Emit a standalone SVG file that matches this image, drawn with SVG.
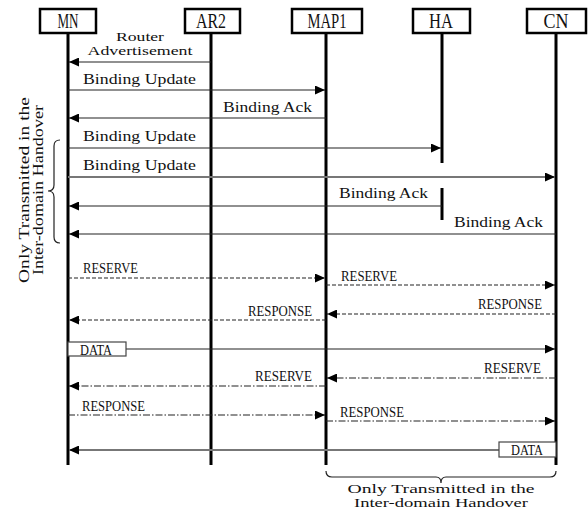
<svg xmlns="http://www.w3.org/2000/svg" width="588" height="515" viewBox="0 0 588 515">
<style>
.t{font-family:"Liberation Serif",serif;font-size:15px;fill:#111}
.s{font-size:12.5px}
.h{font-family:"Liberation Serif",serif;font-size:21px;fill:#111}
.box{fill:#fff;stroke:#000;stroke-width:2.5}
.life{stroke:#000;stroke-width:3;fill:none}
.m{stroke:#222;stroke-width:1.2;fill:none}
.g{stroke:#777;stroke-width:2;fill:none}
.d{stroke-dasharray:4 2}
.dd{stroke-dasharray:7 2 1.5 2}
.brace{stroke:#222;stroke-width:1.2;fill:none}
.db{fill:#fff;stroke:#444;stroke-width:1.2}
</style>
<defs>
<marker id="ah" markerUnits="userSpaceOnUse" markerWidth="10" markerHeight="9" refX="10" refY="4.5" orient="auto">
<path d="M0,0 L10,4.5 L0,9 z" fill="#000"/>
</marker>
</defs>
<g id="MN"><line class="life" x1="68" y1="32" x2="68" y2="465"/><rect class="box" x="40" y="9" width="56" height="24"/><text class="h" x="68" y="28" text-anchor="middle" textLength="21" lengthAdjust="spacingAndGlyphs">MN</text></g>
<g id="AR2"><line class="life" x1="211" y1="32" x2="211" y2="465"/><rect class="box" x="185" y="9" width="55" height="24"/><text class="h" x="211" y="28" text-anchor="middle" textLength="30" lengthAdjust="spacingAndGlyphs">AR2</text></g>
<g id="MAP1"><line class="life" x1="326" y1="32" x2="326" y2="465"/><rect class="box" x="292" y="9" width="70" height="24"/><text class="h" x="327" y="28" text-anchor="middle" textLength="39" lengthAdjust="spacingAndGlyphs">MAP1</text></g>
<g id="HA"><line class="life" x1="442" y1="32" x2="442" y2="163"/><line class="life" x1="442" y1="188" x2="442" y2="220"/><rect class="box" x="413" y="9" width="57" height="24"/><text class="h" x="441" y="28" text-anchor="middle" textLength="24" lengthAdjust="spacingAndGlyphs">HA</text></g>
<g id="CN"><line class="life" x1="556" y1="32" x2="556" y2="465"/><rect class="box" x="527" y="9" width="59" height="24"/><text class="h" x="556" y="28" text-anchor="middle" textLength="25" lengthAdjust="spacingAndGlyphs">CN</text></g>
<g id="connectors">
<line class="m" x1="211" y1="62" x2="69" y2="62" marker-end="url(#ah)"/>
<line class="m" x1="68" y1="90" x2="325" y2="90" marker-end="url(#ah)"/>
<line class="m" x1="326" y1="118" x2="69" y2="118" marker-end="url(#ah)"/>
<line class="m" x1="68" y1="148" x2="441" y2="148" marker-end="url(#ah)"/>
<line class="g" x1="68" y1="177" x2="555" y2="177" marker-end="url(#ah)"/>
<line class="m" x1="442" y1="206" x2="69" y2="206" marker-end="url(#ah)"/>
<line class="m" x1="556" y1="234" x2="69" y2="234" marker-end="url(#ah)"/>
<line class="m d" x1="68" y1="278" x2="325" y2="278" marker-end="url(#ah)"/>
<line class="m d" x1="326" y1="285" x2="555" y2="285" marker-end="url(#ah)"/>
<line class="m d" x1="556" y1="314" x2="327" y2="314" marker-end="url(#ah)"/>
<line class="m d" x1="326" y1="320" x2="69" y2="320" marker-end="url(#ah)"/>
<line class="m" x1="126" y1="349" x2="555" y2="349" marker-end="url(#ah)"/>
<line class="m dd" x1="556" y1="378" x2="327" y2="378" marker-end="url(#ah)"/>
<line class="m dd" x1="326" y1="386" x2="69" y2="386" marker-end="url(#ah)"/>
<line class="m dd" x1="68" y1="415" x2="325" y2="415" marker-end="url(#ah)"/>
<line class="m dd" x1="326" y1="421" x2="555" y2="421" marker-end="url(#ah)"/>
<line class="g" x1="499" y1="450" x2="69" y2="450" marker-end="url(#ah)"/>
<rect class="db" x="68" y="342" width="58" height="14"/>
<rect class="db" x="499" y="442" width="57" height="15"/>
</g>
<g id="labels">
<text class="t s" x="140" y="41" text-anchor="middle" textLength="48" lengthAdjust="spacingAndGlyphs">Router</text>
<text class="t s" x="140" y="55" text-anchor="middle" textLength="105" lengthAdjust="spacingAndGlyphs">Advertisement</text>
<text class="t" x="83" y="84" textLength="113" lengthAdjust="spacingAndGlyphs">Binding Update</text>
<text class="t" x="223" y="112" textLength="89" lengthAdjust="spacingAndGlyphs">Binding Ack</text>
<text class="t" x="83" y="141" textLength="113" lengthAdjust="spacingAndGlyphs">Binding Update</text>
<text class="t" x="83" y="170" textLength="113" lengthAdjust="spacingAndGlyphs">Binding Update</text>
<text class="t" x="339" y="198" textLength="89" lengthAdjust="spacingAndGlyphs">Binding Ack</text>
<text class="t" x="454" y="227" textLength="89" lengthAdjust="spacingAndGlyphs">Binding Ack</text>
<text class="t" x="83" y="273" textLength="55" lengthAdjust="spacingAndGlyphs">RESERVE</text>
<text class="t" x="341" y="281" textLength="56" lengthAdjust="spacingAndGlyphs">RESERVE</text>
<text class="t" x="478" y="309" textLength="64" lengthAdjust="spacingAndGlyphs">RESPONSE</text>
<text class="t" x="248" y="316" textLength="64" lengthAdjust="spacingAndGlyphs">RESPONSE</text>
<text class="t" x="80" y="355" textLength="32" lengthAdjust="spacingAndGlyphs">DATA</text>
<text class="t" x="484" y="373" textLength="57" lengthAdjust="spacingAndGlyphs">RESERVE</text>
<text class="t" x="255" y="381" textLength="57" lengthAdjust="spacingAndGlyphs">RESERVE</text>
<text class="t" x="82" y="411" textLength="63" lengthAdjust="spacingAndGlyphs">RESPONSE</text>
<text class="t" x="340" y="417" textLength="64" lengthAdjust="spacingAndGlyphs">RESPONSE</text>
<text class="t" x="511" y="455" textLength="32" lengthAdjust="spacingAndGlyphs">DATA</text>
</g>
<g id="brace-left">
<path class="brace" d="M60,140 Q54,140 54,146 L54,185 Q54,191 48,191 Q54,191 54,197 L54,237 Q54,243 60,243"/>
<text class="t" transform="translate(29,190) rotate(-90)" text-anchor="middle" textLength="186" lengthAdjust="spacingAndGlyphs">Only Transmitted in the</text>
<text class="t" transform="translate(43,190) rotate(-90)" text-anchor="middle" textLength="170" lengthAdjust="spacingAndGlyphs">Inter-domain Handover</text>
</g>
<g id="brace-bottom">
<path class="brace" d="M326,471 Q326,477 332,477 L436,477 Q441,477 441,483 Q441,477 446,477 L550,477 Q556,477 556,471"/>
<text class="t s" x="441" y="493" text-anchor="middle" textLength="187" lengthAdjust="spacingAndGlyphs">Only Transmitted in the</text>
<text class="t s" x="441" y="507" text-anchor="middle" textLength="174" lengthAdjust="spacingAndGlyphs">Inter-domain Handover</text>
</g>
</svg>
